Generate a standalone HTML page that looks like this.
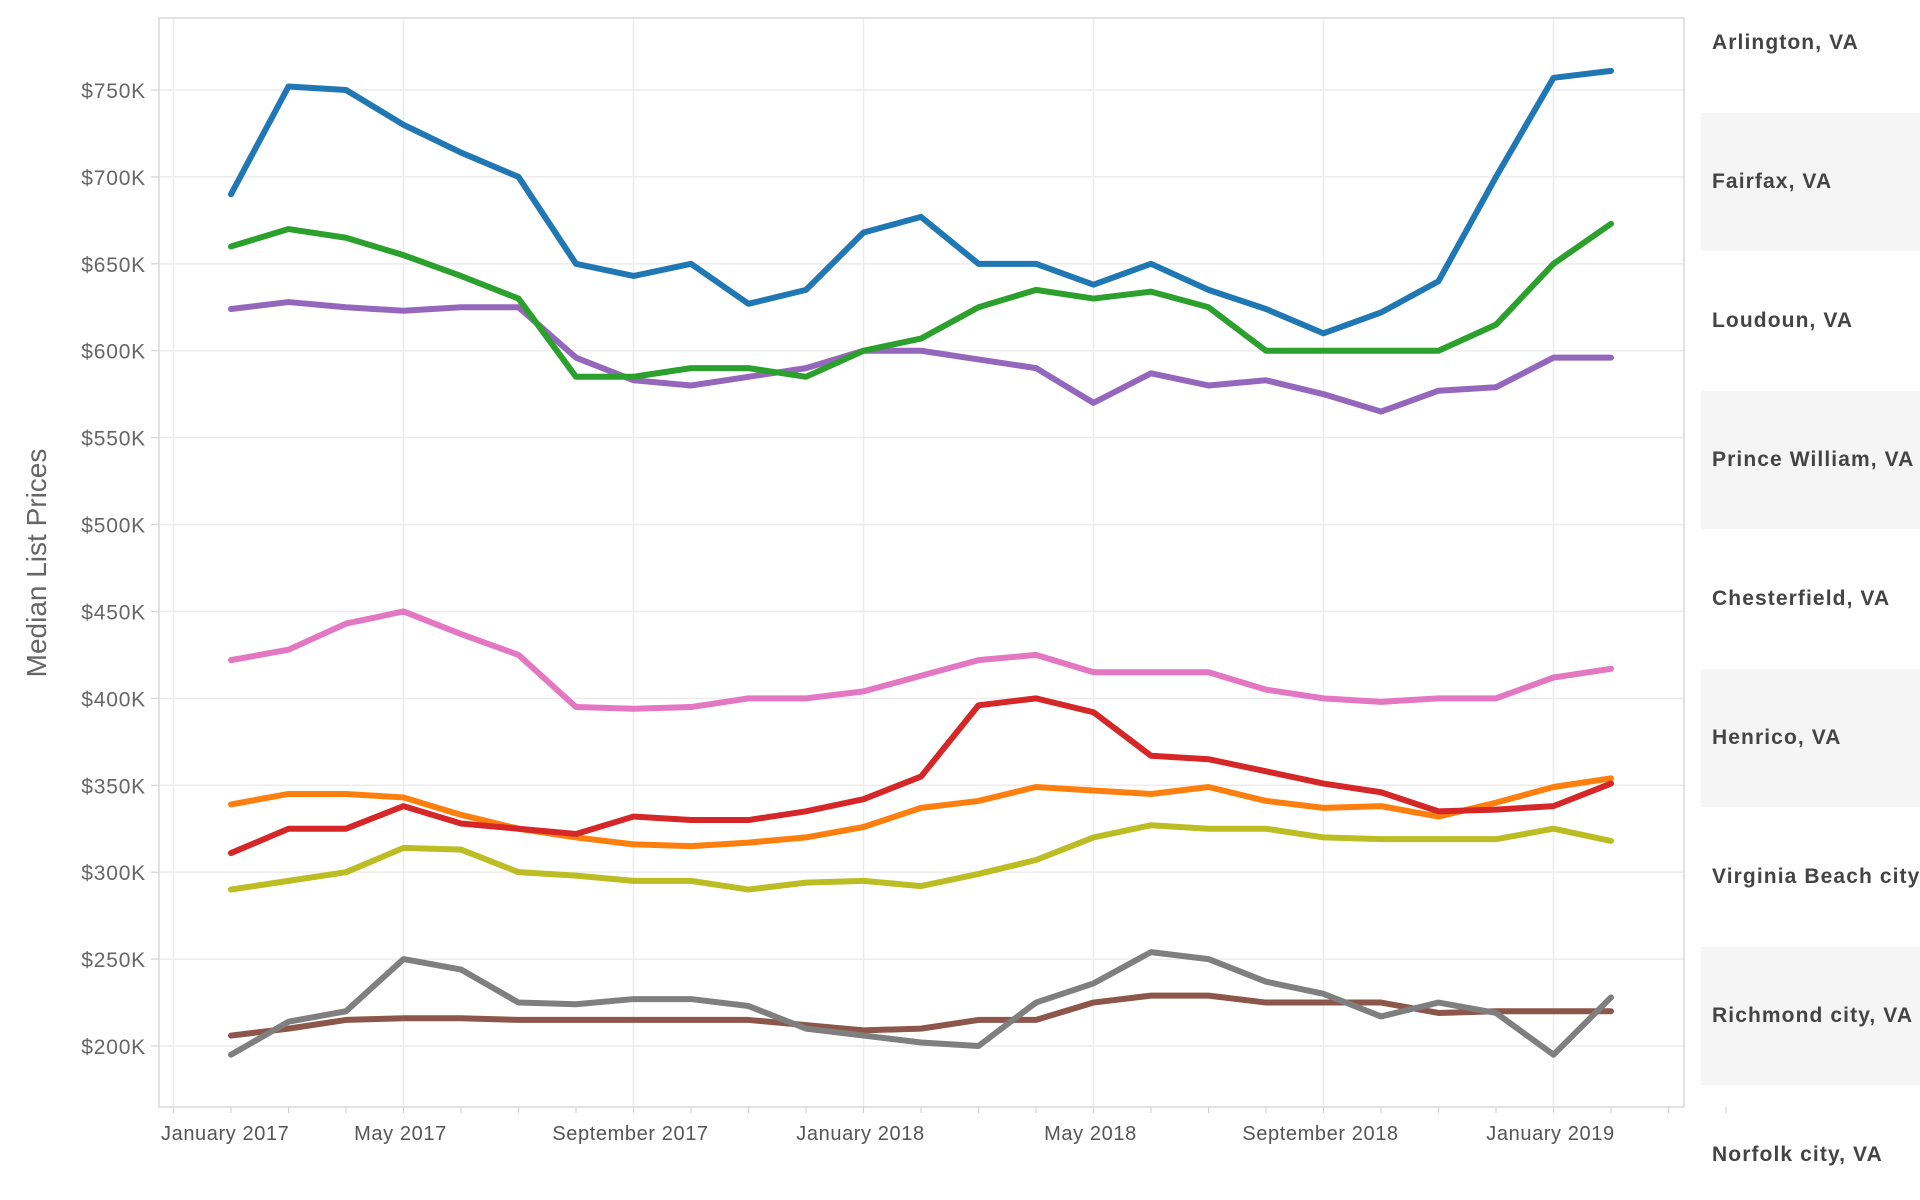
<!DOCTYPE html>
<html><head><meta charset="utf-8"><style>
body{margin:0;width:1920px;height:1200px;background:#fff;overflow:hidden;font-family:"Liberation Sans",sans-serif}
svg{position:absolute;left:0;top:0}
</style></head><body>
<svg id="chart" width="1920" height="1200"></svg>
<script>
const months = ["Feb 2017","Mar 2017","Apr 2017","May 2017","Jun 2017","Jul 2017","Aug 2017","Sep 2017","Oct 2017","Nov 2017","Dec 2017","Jan 2018","Feb 2018","Mar 2018","Apr 2018","May 2018","Jun 2018","Jul 2018","Aug 2018","Sep 2018","Oct 2018","Nov 2018","Dec 2018","Jan 2019","Feb 2019"];
const yTicks = [200,250,300,350,400,450,500,550,600,650,700,750];
const xTickLabels = ["January 2017","May 2017","September 2017","January 2018","May 2018","September 2018","January 2019"];
const xTickIdx = [-1,3,7,11,15,19,23];
const legendNames = ["Arlington, VA","Fairfax, VA","Loudoun, VA","Prince William, VA","Chesterfield, VA","Henrico, VA","Virginia Beach city, VA","Richmond city, VA","Norfolk city, VA"];
const blueSeries = [690,752,750,730,714,700,650,643,650,627,635,668,677,650,650,638,650,635,624,610,622,640,700,757,761];
const greenSeries = [660,670,665,655,643,630,585,585,590,590,585,600,607,625,635,630,634,625,600,600,600,600,615,650,673];
const purpleSeries = [624,628,625,623,625,625,596,583,580,585,590,600,600,595,590,570,587,580,583,575,565,577,579,596,596];
const pinkSeries = [422,428,443,450,437,425,395,394,395,400,400,404,413,422,425,415,415,415,405,400,398,400,400,412,417];
const redSeries = [311,325,325,338,328,325,322,332,330,330,335,342,355,396,400,392,367,365,358,351,346,335,336,338,351];
const orangeSeries = [339,345,345,343,333,325,320,316,315,317,320,326,337,341,349,347,345,349,341,337,338,332,340,349,354];
const oliveSeries = [290,295,300,314,313,300,298,295,295,290,294,295,292,299,307,320,327,325,325,320,319,319,319,325,318];
const graySeries = [195,214,220,250,244,225,224,227,227,223,210,206,202,200,225,236,254,250,237,230,217,225,219,195,228];
const brownSeries = [206,210,215,216,216,215,215,215,215,215,212,209,210,215,215,225,229,229,225,225,225,219,220,220,220];

const NS="http://www.w3.org/2000/svg";
const svg=document.getElementById('chart');
const L=159,T=18,R=1684,B=1107;
function x(i){return 231+57.5*i;}
function y(v){return 90+(750-v)*(1046-90)/550;}
function mk(tag,attrs,parent){const e=document.createElementNS(NS,tag);for(const k in attrs)e.setAttribute(k,attrs[k]);(parent||svg).appendChild(e);return e;}

for(let k=0;k<legendNames.length;k++){
  if(k%2===1){const r=mk('rect',{x:1701,y:113+(k-1)/2*278,width:219,height:138,fill:'#f5f5f5'});
  
  }
}
yTicks.forEach(v=>{
  const g=mk('line',{x1:L,x2:R,y1:y(v),y2:y(v),stroke:'#ececec','stroke-width':1.5});
  
  
  mk('line',{x1:L-8,x2:L,y1:y(v),y2:y(v),stroke:'#ccc','stroke-width':1});
  const t=mk('text',{x:146,y:y(v)+8,'text-anchor':'end','font-size':21,fill:'#666','letter-spacing':'0.8'});
  t.textContent='$'+v+'K';
  
  
});
xTickIdx.forEach((i,k)=>{
  const g=mk('line',{x1:x(i),x2:x(i),y1:T,y2:B,stroke:'#ececec','stroke-width':1.5});
  
  
  const first=(k===0);
  const t=mk('text',{x:first?161:x(i)-3,y:1140,'text-anchor':first?'start':'middle','font-size':20,fill:'#555','letter-spacing':'0.6'});
  t.textContent=xTickLabels[k];
  
  
});
for(let i=-1;i<=26;i++){mk('line',{x1:x(i),x2:x(i),y1:B,y2:B+6,stroke:'#ccc','stroke-width':1});}
const fr=mk('rect',{x:L,y:T,width:R-L,height:B-T,fill:'none',stroke:'#d9d9d9','stroke-width':1.5});


const yt=mk('text',{x:0,y:0,transform:'translate(46,563) rotate(-90)','text-anchor':'middle','font-size':28,fill:'#666'});
yt.textContent='Median List Prices';


const series=[[brownSeries,'#8c564b','brown'],[graySeries,'#7f7f7f','gray'],[oliveSeries,'#bcbd22','olive'],[orangeSeries,'#ff7f0e','orange'],[redSeries,'#d62728','red'],[pinkSeries,'#e377c2','pink'],[purpleSeries,'#9467bd','purple'],[greenSeries,'#2ca02c','green'],[blueSeries,'#1f77b4','blue']];
series.forEach(([d,c,n])=>{
  const p=mk('path',{d:d.map((v,i)=>(i?'L':'M')+x(i)+' '+y(v)).join(' '),fill:'none',stroke:c,'stroke-width':6,'stroke-linejoin':'round','stroke-linecap':'round'});
  
  
});
legendNames.forEach((nm,k)=>{
  const t=mk('text',{x:1712,y:49+k*139,'font-size':21,'font-weight':'bold',fill:'#444','letter-spacing':'1.1'});
  t.textContent=nm;
  
  
});
</script>
</body></html>
